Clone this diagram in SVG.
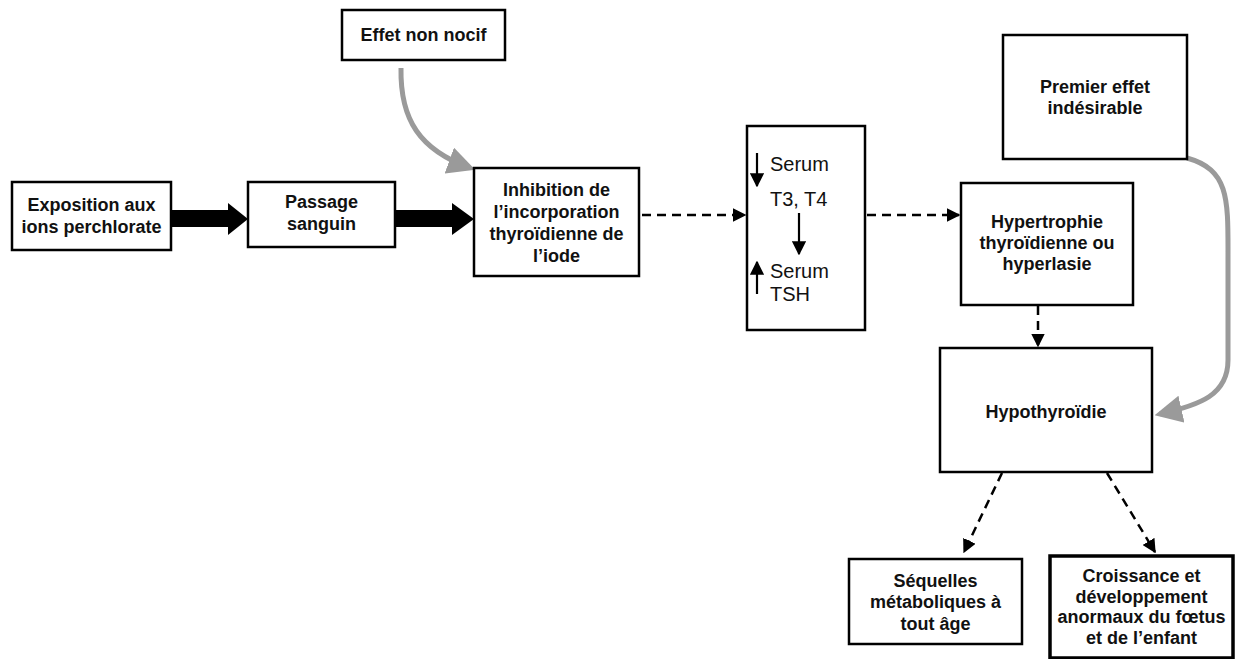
<svg xmlns="http://www.w3.org/2000/svg" width="1236" height="659" viewBox="0 0 1236 659">
<style>
.box{fill:#fff;stroke:#000;stroke-width:2.5}
.t{font-family:"Liberation Sans",Arial,sans-serif;font-weight:bold;font-size:18px;text-anchor:middle;fill:#111}
.r{font-family:"Liberation Sans",Arial,sans-serif;font-size:20px;fill:#111}
.dash{fill:none;stroke:#000;stroke-width:2.5;stroke-dasharray:9 6}
.gray{fill:none;stroke:#9a9a9a;stroke-width:5}
.thin{fill:none;stroke:#000;stroke-width:2.2}
</style>
<defs>
<marker id="ah" viewBox="0 0 10 10" refX="9" refY="5" markerWidth="5.5" markerHeight="5.5" orient="auto" markerUnits="strokeWidth"><path d="M0,0 L10,5 L0,10 z" fill="#000"/></marker>
<marker id="sh" viewBox="0 0 10 10" refX="9" refY="5" markerWidth="6.5" markerHeight="6.5" orient="auto" markerUnits="strokeWidth"><path d="M0,0 L10,5 L0,10 z" fill="#000"/></marker>
<marker id="gh" viewBox="0 0 10 10" refX="8" refY="5" markerWidth="5.5" markerHeight="5.5" orient="auto" markerUnits="strokeWidth"><path d="M0,0 L10,5 L0,10 z" fill="#9a9a9a"/></marker>
</defs>
<rect width="1236" height="659" fill="#fff"/>
<g id="connectors">
<path d="M171,210 H228 V203 L248,219 L228,235 V227 H171 z" fill="#000"/>
<path d="M395,210 H452 V203 L474,219 L452,235 V227 H395 z" fill="#000"/>
<path class="gray" d="M401,68 C400,120 420,150 470,168" marker-end="url(#gh)"/>
<line class="dash" x1="642" y1="215" x2="745" y2="215" marker-end="url(#ah)"/>
<line class="dash" x1="867" y1="215" x2="959" y2="215" marker-end="url(#ah)"/>
<line class="dash" x1="1038" y1="306" x2="1038" y2="346" marker-end="url(#ah)"/>
<path class="gray" d="M1187,158 C1230,170 1228,200 1228,260 L1228,360 C1228,395 1200,405 1160,414" marker-end="url(#gh)"/>
<line class="dash" x1="1002" y1="473" x2="964" y2="552" marker-end="url(#ah)"/>
<line class="dash" x1="1107" y1="473" x2="1155" y2="552" marker-end="url(#ah)"/>
</g>
<g id="n-exposition"><rect class="box" x="12" y="182" width="159" height="68"/><text class="t" x="91.5" y="211">Exposition aux</text><text class="t" x="91.5" y="233">ions perchlorate</text></g>
<g id="n-passage"><rect class="box" x="248" y="182" width="147" height="65"/><text class="t" x="321.5" y="208">Passage</text><text class="t" x="321.5" y="230">sanguin</text></g>
<g id="n-effet"><rect class="box" x="342" y="10" width="163" height="50"/><text class="t" x="423.5" y="41">Effet non nocif</text></g>
<g id="n-inhibition"><rect class="box" x="474" y="168" width="165" height="108"/><text class="t" x="556.5" y="196">Inhibition de</text><text class="t" x="556.5" y="218">l’incorporation</text><text class="t" x="556.5" y="240">thyroïdienne de</text><text class="t" x="556.5" y="262">l’iode</text></g>
<g id="n-serum"><rect class="box" x="747" y="126" width="118" height="204"/>
<text class="r" x="770" y="171">Serum</text><text class="r" x="770" y="206">T3, T4</text><text class="r" x="770" y="278">Serum</text><text class="r" x="770" y="301">TSH</text>
<line class="thin" x1="757" y1="153" x2="757" y2="186" marker-end="url(#sh)"/>
<line class="thin" x1="799" y1="213" x2="799" y2="254" marker-end="url(#sh)"/>
<line class="thin" x1="757" y1="294" x2="757" y2="262" marker-end="url(#sh)"/>
</g>
<g id="n-premier"><rect class="box" x="1003" y="35" width="184" height="124"/><text class="t" x="1095" y="93">Premier effet</text><text class="t" x="1095" y="114">indésirable</text></g>
<g id="n-hypertrophie"><rect class="box" x="961" y="183" width="172" height="122"/><text class="t" x="1047" y="228">Hypertrophie</text><text class="t" x="1047" y="249">thyroïdienne ou</text><text class="t" x="1047" y="270">hyperlasie</text></g>
<g id="n-hypothyroidie"><rect class="box" x="940" y="348" width="212" height="124"/><text class="t" x="1046" y="418">Hypothyroïdie</text></g>
<g id="n-sequelles"><rect class="box" x="849" y="559" width="173" height="85"/><text class="t" x="935.5" y="587">Séquelles</text><text class="t" x="935.5" y="608">métaboliques à</text><text class="t" x="935.5" y="630">tout âge</text></g>
<g id="n-croissance"><rect class="box" x="1050" y="556" width="183" height="102" style="stroke-width:3.5"/><text class="t" x="1141.5" y="582">Croissance et</text><text class="t" x="1141.5" y="603">développement</text><text class="t" x="1141.5" y="623">anormaux du fœtus</text><text class="t" x="1141.5" y="644">et de l’enfant</text></g>
</svg>
